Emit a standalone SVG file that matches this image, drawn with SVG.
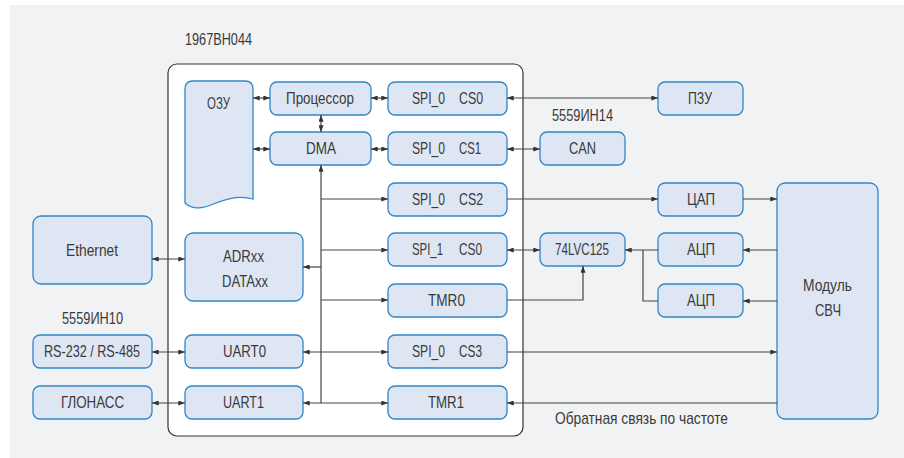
<svg xmlns="http://www.w3.org/2000/svg" width="904" height="458" viewBox="0 0 904 458">
<style>
.n{fill:#dfe6f3;stroke:#2f86c8;stroke-width:1.3}
text{font-family:"Liberation Sans",Arial,sans-serif;font-size:17px;fill:#3a3a3a}
.c{fill:none;stroke:#444;stroke-width:1.2}
.e{marker-end:url(#ah)}
.b{marker-end:url(#ah);marker-start:url(#ah)}
</style>
<defs>
<marker id="ah" viewBox="0 0 8 6" refX="8" refY="3" markerWidth="7" markerHeight="5" markerUnits="userSpaceOnUse" orient="auto-start-reverse">
<path d="M0,0 L8,3 L0,6 z" fill="#333"/>
</marker>
</defs>
<rect x="10" y="5" width="894" height="453" fill="#f1f2f4"/>
<g id="chip">
<rect x="168" y="64" width="355" height="372" rx="9" fill="#fff" stroke="#333" stroke-width="1.2"/>
<text x="185" y="45" textLength="67" lengthAdjust="spacingAndGlyphs">1967ВН044</text>
</g>
<g id="ozu">
<path class="n" d="M193,81 H245 Q253,81 253,89 V199 C240,195 228,198 216,203 C204,208 194,211 185,203 V89 Q185,81 193,81 Z"/>
<text x="207" y="109" textLength="23" lengthAdjust="spacingAndGlyphs">ОЗУ</text>
</g>
<g id="cpu"><rect class="n" x="270" y="82" width="101" height="33" rx="7"/><text x="286" y="104" textLength="68" lengthAdjust="spacingAndGlyphs">Процессор</text></g>
<g id="dma"><rect class="n" x="270" y="132" width="101" height="33" rx="7"/><text x="306" y="154" textLength="30" lengthAdjust="spacingAndGlyphs">DMA</text></g>
<g id="spi0cs0"><rect class="n" x="388" y="82" width="119" height="33" rx="7"/><text x="412" y="104" textLength="33" lengthAdjust="spacingAndGlyphs">SPI_0</text><text x="459" y="104" textLength="24" lengthAdjust="spacingAndGlyphs">CS0</text></g>
<g id="spi0cs1"><rect class="n" x="388" y="132" width="119" height="33" rx="7"/><text x="412" y="154" textLength="33" lengthAdjust="spacingAndGlyphs">SPI_0</text><text x="459" y="154" textLength="22" lengthAdjust="spacingAndGlyphs">CS1</text></g>
<g id="spi0cs2"><rect class="n" x="388" y="183" width="119" height="33" rx="7"/><text x="412" y="205" textLength="33" lengthAdjust="spacingAndGlyphs">SPI_0</text><text x="459" y="205" textLength="24" lengthAdjust="spacingAndGlyphs">CS2</text></g>
<g id="spi1cs0"><rect class="n" x="388" y="233" width="119" height="33" rx="7"/><text x="412" y="255" textLength="31" lengthAdjust="spacingAndGlyphs">SPI_1</text><text x="459" y="255" textLength="23" lengthAdjust="spacingAndGlyphs">CS0</text></g>
<g id="tmr0"><rect class="n" x="388" y="284" width="119" height="33" rx="7"/><text x="428" y="306" textLength="37" lengthAdjust="spacingAndGlyphs">TMR0</text></g>
<g id="spi0cs3"><rect class="n" x="388" y="335" width="119" height="33" rx="7"/><text x="412" y="357" textLength="33" lengthAdjust="spacingAndGlyphs">SPI_0</text><text x="459" y="357" textLength="23" lengthAdjust="spacingAndGlyphs">CS3</text></g>
<g id="tmr1"><rect class="n" x="388" y="386" width="119" height="33" rx="7"/><text x="428" y="408" textLength="36" lengthAdjust="spacingAndGlyphs">TMR1</text></g>
<g id="adr"><rect class="n" x="185" y="233" width="118" height="68" rx="8"/><text x="223" y="262" textLength="41" lengthAdjust="spacingAndGlyphs">ADRxx</text><text x="222" y="287" textLength="46" lengthAdjust="spacingAndGlyphs">DATAxx</text></g>
<g id="uart0"><rect class="n" x="185" y="335" width="118" height="33" rx="7"/><text x="223" y="357" textLength="43" lengthAdjust="spacingAndGlyphs">UART0</text></g>
<g id="uart1"><rect class="n" x="185" y="386" width="118" height="33" rx="7"/><text x="223" y="408" textLength="41" lengthAdjust="spacingAndGlyphs">UART1</text></g>
<g id="ethernet"><rect class="n" x="33" y="216" width="119" height="68" rx="8"/><text x="66" y="256" textLength="52" lengthAdjust="spacingAndGlyphs">Ethernet</text></g>
<g id="rs"><rect class="n" x="33" y="335" width="119" height="33" rx="7"/><text x="44" y="357" textLength="96" lengthAdjust="spacingAndGlyphs">RS-232 / RS-485</text></g>
<g id="glonass"><rect class="n" x="33" y="386" width="119" height="33" rx="7"/><text x="61" y="408" textLength="63" lengthAdjust="spacingAndGlyphs">ГЛОНАСС</text></g>
<g id="lbl10"><text x="62" y="324" textLength="61" lengthAdjust="spacingAndGlyphs">5559ИН10</text></g>
<g id="pzu"><rect class="n" x="658" y="82" width="85" height="33" rx="7"/><text x="688" y="104" textLength="24" lengthAdjust="spacingAndGlyphs">ПЗУ</text></g>
<g id="lbl14"><text x="552" y="121" textLength="61" lengthAdjust="spacingAndGlyphs">5559ИН14</text></g>
<g id="can"><rect class="n" x="540" y="132" width="85" height="33" rx="7"/><text x="569" y="154" textLength="27" lengthAdjust="spacingAndGlyphs">CAN</text></g>
<g id="cap"><rect class="n" x="658" y="183" width="85" height="33" rx="7"/><text x="687" y="205" textLength="28" lengthAdjust="spacingAndGlyphs">ЦАП</text></g>
<g id="lvc"><rect class="n" x="540" y="233" width="85" height="33" rx="7"/><text x="555" y="255" textLength="54" lengthAdjust="spacingAndGlyphs">74LVC125</text></g>
<g id="acp1"><rect class="n" x="658" y="233" width="85" height="33" rx="7"/><text x="687" y="255" textLength="28" lengthAdjust="spacingAndGlyphs">АЦП</text></g>
<g id="acp2"><rect class="n" x="658" y="284" width="85" height="33" rx="7"/><text x="687" y="306" textLength="28" lengthAdjust="spacingAndGlyphs">АЦП</text></g>
<g id="svch"><rect class="n" x="777" y="183" width="101" height="236" rx="8"/><text x="803" y="291" textLength="49" lengthAdjust="spacingAndGlyphs">Модуль</text><text x="815" y="316" textLength="26" lengthAdjust="spacingAndGlyphs">СВЧ</text></g>
<g id="lblfb"><text x="555" y="424" textLength="173" lengthAdjust="spacingAndGlyphs">Обратная связь по частоте</text></g>
<g id="connectors">
<path class="c b" d="M253,98 H270"/>
<path class="c b" d="M371,98 H388"/>
<path class="c b" d="M321,115 V132"/>
<path class="c b" d="M253,149 H270"/>
<path class="c b" d="M371,149 H388"/>
<path class="c b" d="M507,98 H658"/>
<path class="c b" d="M507,149 H540"/>
<path class="c e" d="M321,403 V165"/>
<path class="c e" d="M321,199 H388"/>
<path class="c e" d="M321,250 H388"/>
<path class="c e" d="M321,267 H303"/>
<path class="c e" d="M321,300 H388"/>
<path class="c b" d="M303,352 H388"/>
<path class="c b" d="M303,403 H388"/>
<path class="c e" d="M507,199 H658"/>
<path class="c e" d="M743,199 H777"/>
<path class="c e" d="M777,250 H743"/>
<path class="c e" d="M777,301 H743"/>
<path class="c e" d="M658,250 H625"/>
<path class="c" d="M658,301 H643 V250"/>
<path class="c b" d="M507,250 H540"/>
<path class="c e" d="M507,300 H583 V266"/>
<path class="c e" d="M507,352 H777"/>
<path class="c e" d="M777,403 H507"/>
<path class="c b" d="M152,259 H185"/>
<path class="c b" d="M152,352 H185"/>
<path class="c b" d="M152,403 H185"/>
</g>
</svg>
